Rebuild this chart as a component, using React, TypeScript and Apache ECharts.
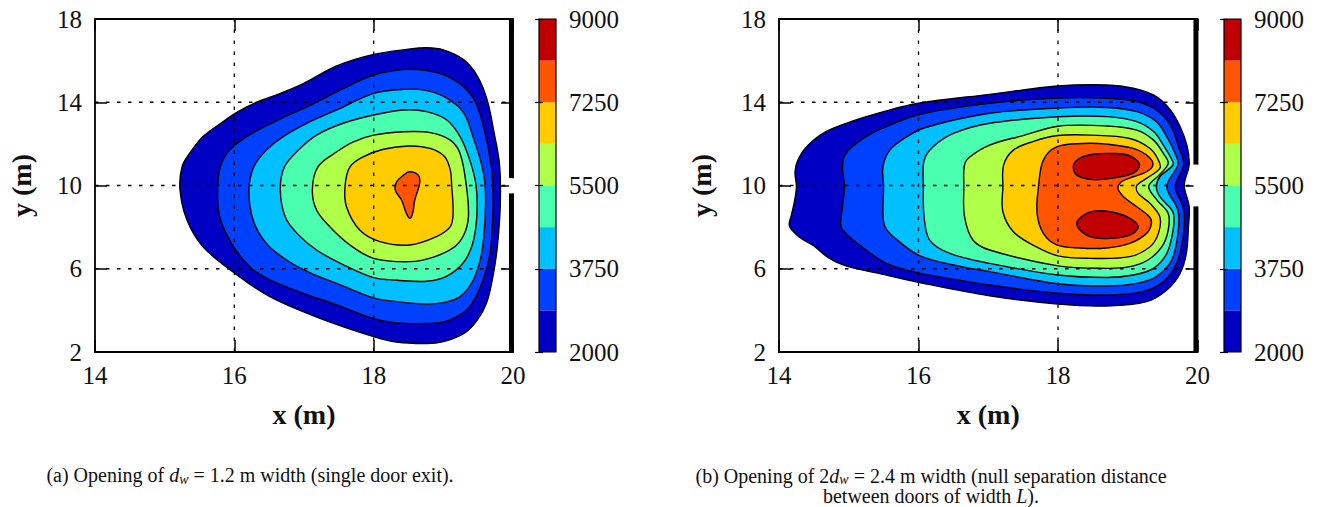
import React, { useEffect, useRef } from "react";
import * as echarts from "echarts";

const FONT = "'Liberation Serif', 'DejaVu Serif', serif";

// contour levels and band colours
const levels = [2000, 2875, 3750, 4625, 5500, 6375, 7250, 8125, 9000];
const bandColors = ["#0000c4", "#0040ff", "#00c0ff", "#4affb0", "#b0ff48", "#ffcc00", "#ff5500", "#c00000"];

const xTicks = [14, 16, 18, 20];
const yTicks = [2, 6, 10, 14, 18];
const cbarTicks = [2000, 3750, 5500, 7250, 9000];
const gridXs = [16, 18];
const gridYs = [6, 10, 14];
const doorA = [9.63, 10.35];
const doorB = [9.0, 11.0];

// ---------- panel (a): single door ----------
const a2000 = [[15.22,9.8],[15.25,10.9],[15.36,11.55],[15.55,12.35],[15.79,12.95],[16.03,13.5],[16.32,14.0],[16.66,14.43],[16.99,14.9],[17.47,15.75],[18.0,16.3],[18.5,16.55],[18.76,16.62],[19.0,16.52],[19.29,16.05],[19.49,15.25],[19.63,14.1],[19.73,12.5],[19.8,11.2],[19.82,10.0],[19.81,8.5],[19.77,6.9],[19.71,5.6],[19.62,4.35],[19.48,3.5],[19.29,2.88],[19.0,2.5],[18.76,2.41],[18.33,2.48],[18.0,2.74],[17.23,3.62],[16.51,4.66],[16.0,5.8],[15.55,7.06],[15.32,8.34]];
const a2875 = [[15.76,9.8],[15.8,10.9],[15.93,11.7],[16.2,12.4],[16.6,13.1],[17.09,13.85],[17.56,14.65],[18.0,15.31],[18.45,15.58],[18.76,15.52],[19.02,15.3],[19.29,14.75],[19.47,13.95],[19.6,12.5],[19.69,10.9],[19.71,10.0],[19.71,8.5],[19.67,6.74],[19.57,5.46],[19.38,4.18],[19.19,3.69],[19.0,3.45],[18.76,3.37],[18.33,3.4],[18.0,3.6],[17.47,4.26],[16.99,4.82],[16.51,5.46],[16.22,6.1],[15.96,7.22],[15.79,8.5]];
const a3750 = [[16.21,9.8],[16.28,10.9],[16.46,11.7],[16.7,12.35],[17.04,12.99],[17.47,13.63],[18.0,14.43],[18.43,14.62],[18.76,14.56],[19.05,14.2],[19.29,13.5],[19.43,12.3],[19.55,11.0],[19.6,10.0],[19.6,8.5],[19.55,6.74],[19.43,5.46],[19.24,4.66],[19.0,4.37],[18.76,4.3],[18.33,4.42],[18.0,4.6],[17.47,5.3],[17.09,5.8],[16.75,6.42],[16.46,7.22],[16.27,8.34]];
const a4625 = [[16.66,9.8],[16.72,10.9],[16.92,11.7],[17.18,12.42],[17.56,12.99],[18.0,13.39],[18.43,13.63],[18.76,13.55],[19.05,13.15],[19.24,12.35],[19.38,11.22],[19.47,10.0],[19.48,8.5],[19.42,7.2],[19.29,6.3],[19.05,5.65],[18.76,5.4],[18.33,5.45],[18.0,5.57],[17.56,6.2],[17.18,6.9],[16.9,7.7],[16.73,8.5]];
const a5500 = [[17.12,9.8],[17.2,10.9],[17.47,11.62],[17.71,12.1],[18.0,12.42],[18.43,12.58],[18.81,12.54],[19.1,12.18],[19.24,11.54],[19.33,10.0],[19.36,8.5],[19.29,7.6],[19.14,7.0],[18.85,6.55],[18.52,6.34],[18.0,6.5],[17.66,7.14],[17.37,8.02],[17.18,8.82]];
const a6375 = [[17.59,10.0],[17.66,10.9],[17.85,11.38],[18.14,11.74],[18.5,11.9],[18.81,11.78],[19.02,11.38],[19.1,10.74],[19.12,10.0],[19.14,8.66],[19.1,8.02],[18.9,7.54],[18.52,7.14],[18.09,7.3],[17.8,7.86],[17.61,8.98]];
const a7250 = [[18.51,10.66],[18.64,10.5],[18.66,10.1],[18.59,9.3],[18.56,8.66],[18.52,8.42],[18.47,8.66],[18.4,9.3],[18.31,9.78],[18.33,10.18],[18.43,10.5]];

const contoursA = [
  { level: 2000, pts: a2000 },
  { level: 2875, pts: a2875 },
  { level: 3750, pts: a3750 },
  { level: 4625, pts: a4625 },
  { level: 5500, pts: a5500 },
  { level: 6375, pts: a6375 },
  { level: 7250, pts: a7250 },
];

// ---------- panel (b): double door ----------
const b2000 = [[14.25,9.94],[14.23,10.66],[14.28,11.3],[14.42,11.95],[14.68,12.6],[15.06,13.1],[15.5,13.55],[16.0,13.95],[17.02,14.38],[18.0,14.78],[18.7,14.83],[19.08,14.67],[19.41,14.27],[19.61,13.63],[19.75,12.83],[19.85,11.9],[19.88,11.0],[19.81,10.0],[19.88,9.0],[19.87,8.0],[19.84,6.74],[19.75,5.78],[19.56,4.98],[19.27,4.42],[18.7,4.21],[18.0,4.3],[17.02,4.7],[16.0,5.35],[15.4,5.8],[14.95,6.15],[14.7,6.55],[14.5,7.1],[14.3,7.5],[14.15,8.05],[14.18,8.6],[14.22,9.2]];
const b2875 = [[14.94,9.94],[14.91,10.9],[14.95,11.5],[15.1,12.0],[15.4,12.62],[16.0,13.4],[17.02,13.95],[18.0,14.2],[18.7,14.19],[19.13,14.03],[19.41,13.63],[19.61,12.91],[19.73,11.86],[19.8,11.0],[19.68,9.95],[19.8,8.9],[19.8,7.7],[19.7,6.26],[19.51,5.38],[19.22,4.9],[18.7,4.74],[18.0,4.82],[17.02,5.22],[16.0,5.8],[15.54,6.26],[15.25,6.9],[15.01,7.54],[14.89,8.02],[14.91,8.98]];
const b3750 = [[15.5,9.94],[15.49,10.9],[15.59,11.7],[15.83,12.34],[16.11,12.8],[17.02,13.47],[18.0,13.72],[18.7,13.75],[19.13,13.55],[19.41,13.07],[19.56,12.34],[19.68,11.54],[19.72,11.0],[19.56,9.95],[19.72,8.8],[19.72,7.7],[19.63,6.42],[19.41,5.62],[19.13,5.3],[18.7,5.17],[18.0,5.28],[17.02,5.86],[16.5,6.18],[16.0,6.66],[15.64,7.54],[15.52,8.02],[15.49,8.66]];
const b4625 = [[16.07,9.94],[16.08,11.2],[16.21,11.86],[16.5,12.5],[17.02,12.99],[18.0,13.3],[18.7,13.31],[19.13,13.07],[19.37,12.59],[19.51,11.94],[19.61,11.38],[19.65,11.0],[19.46,10.42],[19.41,9.94],[19.46,9.46],[19.65,8.7],[19.65,7.86],[19.56,6.74],[19.37,6.02],[19.08,5.7],[18.7,5.58],[18.0,5.7],[17.02,6.26],[16.45,6.74],[16.16,7.38],[16.08,8.5]];
const b5500 = [[16.65,9.94],[16.66,11.0],[16.74,11.38],[17.02,11.94],[17.5,12.4],[18.0,12.85],[18.7,12.86],[19.13,12.66],[19.37,12.18],[19.51,11.54],[19.58,11.06],[19.45,10.5],[19.3,9.95],[19.42,9.3],[19.58,8.66],[19.58,7.86],[19.49,7.06],[19.29,6.42],[19.03,6.1],[18.7,6.02],[18.0,6.14],[17.02,6.9],[16.78,7.38],[16.66,8.5]];
const b6375 = [[17.21,9.94],[17.22,10.98],[17.36,11.7],[17.64,12.11],[18.0,12.4],[18.46,12.42],[19.03,12.26],[19.32,11.78],[19.44,11.22],[19.46,10.82],[19.27,10.34],[19.13,10.0],[19.15,9.62],[19.32,9.14],[19.46,8.5],[19.44,7.7],[19.32,7.06],[19.03,6.58],[18.46,6.5],[18.0,6.62],[17.64,7.14],[17.36,7.78],[17.21,8.74]];
const b7250 = [[17.72,9.94],[17.79,11.22],[17.98,11.86],[18.36,12.02],[18.7,11.99],[19.08,11.78],[19.3,11.38],[19.36,10.98],[19.27,10.66],[19.08,10.42],[18.91,10.18],[18.86,9.86],[18.94,9.46],[19.13,8.98],[19.31,8.5],[19.34,8.18],[19.27,7.7],[19.03,7.22],[18.7,7.0],[18.31,7.0],[17.98,7.15],[17.79,7.7],[17.7,8.66]];
const b8125up = [[18.22,10.94],[18.31,11.3],[18.5,11.5],[18.79,11.54],[19.03,11.43],[19.17,11.0],[19.08,10.6],[18.79,10.36],[18.5,10.28],[18.27,10.5]];
const b8125lo = [[18.27,8.22],[18.37,8.58],[18.51,8.77],[18.75,8.74],[18.99,8.5],[19.15,8.02],[19.03,7.62],[18.75,7.46],[18.51,7.5],[18.34,7.78]];

const contoursB = [
  { level: 2000, pts: b2000 },
  { level: 2875, pts: b2875 },
  { level: 3750, pts: b3750 },
  { level: 4625, pts: b4625 },
  { level: 5500, pts: b5500 },
  { level: 6375, pts: b6375 },
  { level: 7250, pts: b7250 },
  { level: 8125, pts: b8125up },
  { level: 8125, pts: b8125lo },
];

function contourSeries(xi: number, yi: number, polys: any[]) {
  return {
    type: "custom",
    xAxisIndex: xi,
    yAxisIndex: yi,
    z: 2,
    silent: true,
    data: polys.map((p) => p.pts[0]),
    renderItem: (params: any, api: any) => {
      const p = polys[params.dataIndex];
      const pts = p.pts.map((q: number[]) => api.coord(q));
      return {
        type: "polygon",
        shape: { points: pts, smooth: 0.35 },
        style: { fill: bandColors[levels.indexOf(p.level)], stroke: "#000", lineWidth: 1.4 },
      };
    },
  };
}

function gridSeries(xi: number, yi: number) {
  const lines = [...gridXs.map((v) => ({ o: "v", v })), ...gridYs.map((v) => ({ o: "h", v }))];
  return {
    type: "custom",
    xAxisIndex: xi,
    yAxisIndex: yi,
    z: 5,
    silent: true,
    data: lines.map(() => [14, 2]),
    renderItem: (params: any, api: any) => {
      const l = lines[params.dataIndex];
      const p1 = l.o === "v" ? api.coord([l.v, 2]) : api.coord([14, l.v]);
      const p2 = l.o === "v" ? api.coord([l.v, 18]) : api.coord([20, l.v]);
      return {
        type: "line",
        shape: { x1: p1[0], y1: p1[1], x2: p2[0], y2: p2[1] },
        style: { stroke: "#000", lineWidth: 1.3, lineDash: [3.5, 7.5] },
      };
    },
  };
}

function wallSeries(xi: number, yi: number, door: number[]) {
  const segs = [
    { y0: 2, y1: door[0], c: "#000", x0: 19.942, x1: 20.008 },
    { y0: door[1], y1: 18, c: "#000", x0: 19.942, x1: 20.008 },
    { y0: door[0], y1: door[1], c: "#fff", x0: 19.942, x1: 20.03 },
  ];
  return {
    type: "custom",
    xAxisIndex: xi,
    yAxisIndex: yi,
    z: 20,
    silent: true,
    data: segs.map(() => [20, 10]),
    renderItem: (params: any, api: any) => {
      const s = segs[params.dataIndex];
      const a = api.coord([s.x0, s.y1]);
      const b = api.coord([s.x1, s.y0]);
      return {
        type: "rect",
        shape: { x: a[0], y: a[1], width: b[0] - a[0], height: b[1] - a[1] },
        style: { fill: s.c },
      };
    },
  };
}

function cbarSeries(xi: number, yi: number) {
  const bands = bandColors.map((c, i) => ({ c, lo: levels[i], hi: levels[i + 1] }));
  return {
    type: "custom",
    xAxisIndex: xi,
    yAxisIndex: yi,
    z: 2,
    silent: true,
    data: bands.map((b) => [0, b.lo]),
    renderItem: (params: any, api: any) => {
      const b = bands[params.dataIndex];
      const p1 = api.coord([0, b.hi]);
      const p2 = api.coord([1, b.lo]);
      return {
        type: "rect",
        shape: { x: p1[0], y: p1[1], width: p2[0] - p1[0], height: p2[1] - p1[1] },
        style: { fill: b.c },
      };
    },
  };
}

const plain = (v: number) => String(v);
const labelStyle = { fontFamily: FONT, fontSize: 25, color: "#111", formatter: plain };
const tickStyle = { color: "#000", width: 1.5 };

function plotXAxes(g: number) {
  return [
    {
      gridIndex: g, type: "value", min: 14, max: 20, interval: 2, position: "bottom", z: 10,
      axisLine: { show: false },
      axisTick: { show: true, inside: true, length: 12, lineStyle: tickStyle, customValues: xTicks },
      axisLabel: { ...labelStyle, margin: 11, customValues: xTicks },
      splitLine: { show: false },
      name: "x (m)", nameLocation: "middle", nameGap: 48,
      nameTextStyle: { fontFamily: FONT, fontSize: 28, fontWeight: "bold", color: "#111" },
    },
    {
      gridIndex: g, type: "value", min: 14, max: 20, interval: 2, position: "top", z: 10,
      axisLine: { show: false },
      axisTick: { show: true, inside: true, length: 12, lineStyle: tickStyle, customValues: xTicks },
      axisLabel: { show: false },
      splitLine: { show: false },
    },
  ];
}

function plotYAxes(g: number, nameGap: number) {
  return [
    {
      gridIndex: g, type: "value", min: 2, max: 18, interval: 4, position: "left", z: 10,
      axisLine: { show: false },
      axisTick: { show: true, inside: true, length: 12, lineStyle: tickStyle, customValues: yTicks },
      axisLabel: { ...labelStyle, margin: 13, customValues: yTicks },
      splitLine: { show: false },
      name: "y (m)", nameLocation: "middle", nameGap, nameRotate: 90,
      nameTextStyle: { fontFamily: FONT, fontSize: 28, fontWeight: "bold", color: "#111" },
    },
    {
      gridIndex: g, type: "value", min: 2, max: 18, interval: 4, position: "right", z: 10,
      axisLine: { show: false },
      axisTick: { show: true, inside: true, length: 12, lineStyle: tickStyle, customValues: yTicks },
      axisLabel: { show: false },
      splitLine: { show: false },
    },
  ];
}

function cbarXAxis(g: number) {
  return { gridIndex: g, type: "value", min: 0, max: 1, show: false };
}

function cbarYAxes(g: number) {
  return [
    {
      gridIndex: g, type: "value", min: 2000, max: 9000, interval: 1750, position: "right", z: 10,
      axisLine: { show: false },
      axisTick: { show: true, inside: true, length: 4, lineStyle: { color: "#000", width: 1.2 }, customValues: cbarTicks },
      axisLabel: { ...labelStyle, margin: 13, customValues: cbarTicks },
      splitLine: { show: false },
    },
    {
      gridIndex: g, type: "value", min: 2000, max: 9000, interval: 1750, position: "left", z: 10,
      axisLine: { show: false },
      axisTick: { show: true, inside: true, length: 4, lineStyle: { color: "#000", width: 1.2 }, customValues: cbarTicks },
      axisLabel: { show: false },
      splitLine: { show: false },
    },
  ];
}

const plotGrid = (left: number, width: number) => ({
  left, top: 19, width, height: 333, show: true, borderColor: "#000", borderWidth: 1.8,
  backgroundColor: "transparent", z: 10, containLabel: false,
});
const cbarGrid = (left: number) => ({
  left, top: 19, width: 17, height: 333, show: true, borderColor: "#000", borderWidth: 1.2,
  backgroundColor: "transparent", z: 10, containLabel: false,
});

const capRich = {
  i: { fontFamily: FONT, fontSize: 20, fontStyle: "italic", fill: "#111", lineHeight: 20 },
  s: { fontFamily: FONT, fontSize: 14, fontStyle: "italic", fill: "#111", lineHeight: 14, verticalAlign: "bottom" },
};

export default function App() {
  const ref = useRef<HTMLDivElement>(null);
  useEffect(() => {
    if (!ref.current) return;
    const chart = echarts.init(ref.current, undefined, { renderer: "svg" });
    const option: any = {
      animation: false,
      backgroundColor: "#fff",
      grid: [plotGrid(95, 418), cbarGrid(539), plotGrid(779, 418.5), cbarGrid(1224)],
      xAxis: [...plotXAxes(0), cbarXAxis(1), ...plotXAxes(2), cbarXAxis(3)],
      yAxis: [...plotYAxes(0, 60), ...cbarYAxes(1), ...plotYAxes(2, 64), ...cbarYAxes(3)],
      series: [
        contourSeries(0, 0, contoursA),
        gridSeries(0, 0),
        wallSeries(0, 0, doorA),
        cbarSeries(2, 2),
        contourSeries(3, 4, contoursB),
        gridSeries(3, 4),
        wallSeries(3, 4, doorB),
        cbarSeries(5, 6),
      ],
      graphic: [
        {
          type: "text", x: 250, y: 464, silent: true,
          style: {
            text: "(a) Opening of {i|d}{s|w} = 1.2 m width (single door exit).",
            fontFamily: FONT, fontSize: 20, fill: "#111", lineHeight: 22, rich: capRich, align: "center",
          },
        },
        {
          type: "text", x: 931, y: 466, silent: true,
          style: {
            text: "(b) Opening of 2{i|d}{s|w} = 2.4 m width (null separation distance\nbetween doors of width {i|L}).",
            fontFamily: FONT, fontSize: 20, fill: "#111", lineHeight: 20, rich: capRich, align: "center",
          },
        },
      ],
    };
    chart.setOption(option);
    return () => chart.dispose();
  }, []);
  return <div ref={ref} style={{ position: "absolute", left: 0, top: 0, width: 1317, height: 507 }} />;
}
